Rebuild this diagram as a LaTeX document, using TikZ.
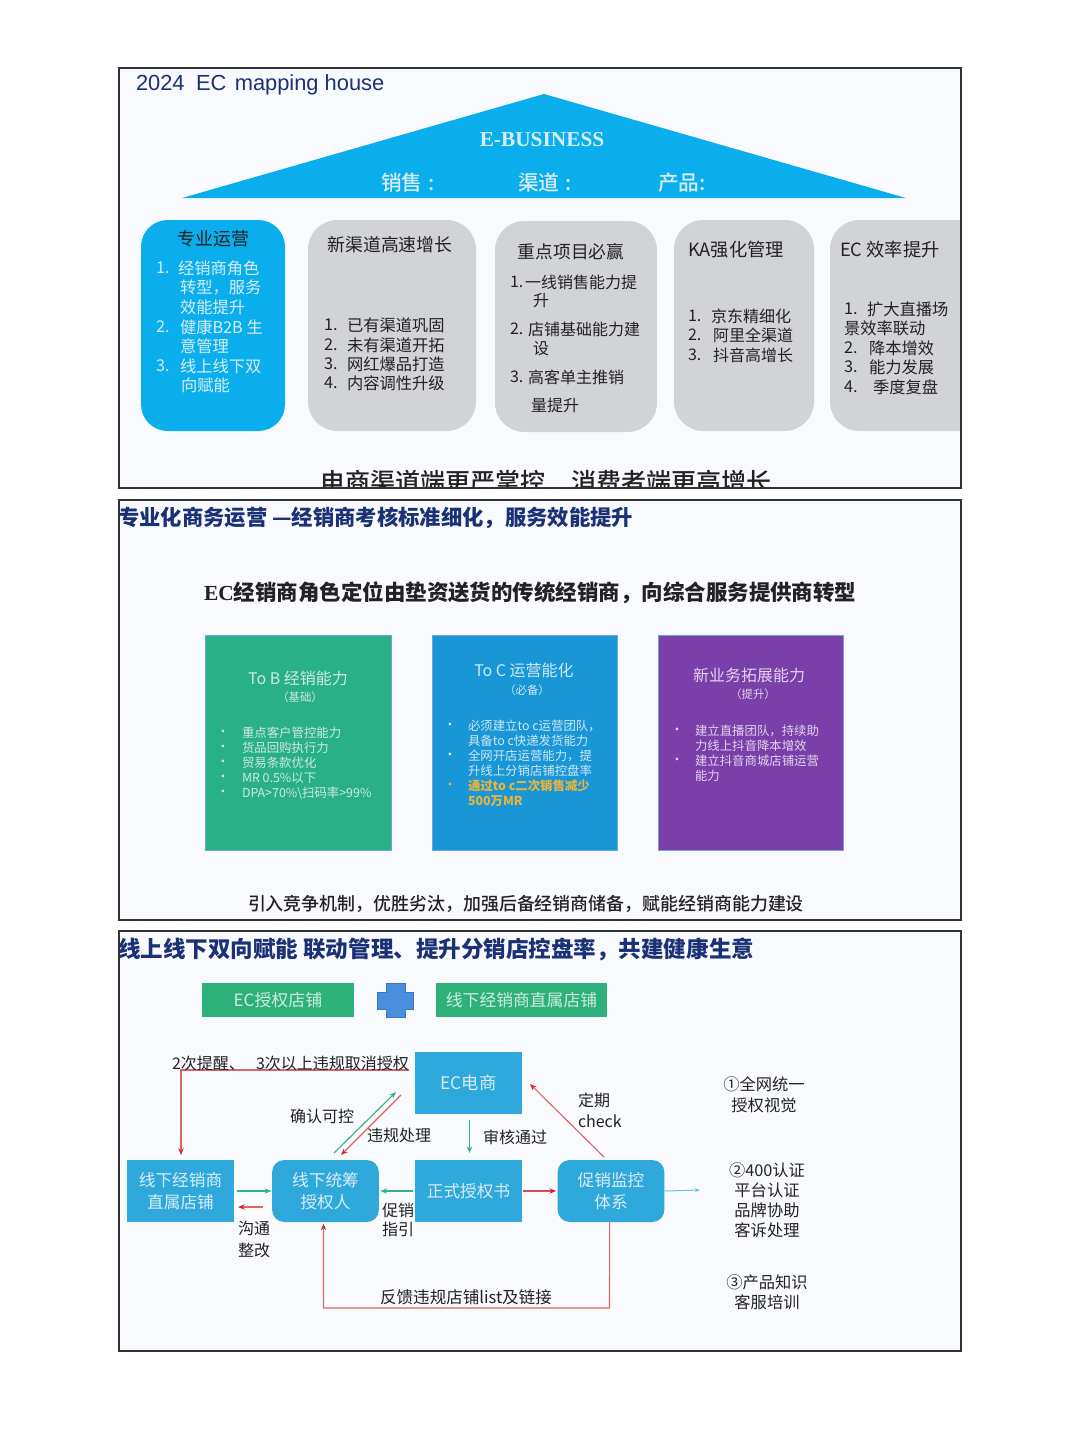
\documentclass[tikz,border=0pt]{standalone}
\usepackage{fontspec}
\usetikzlibrary{arrows.meta}
\setmainfont{Noto Sans CJK SC}
\newfontfamily\latf{Liberation Sans}
\newfontfamily\serf{Liberation Serif}
\newfontfamily\medf{Noto Sans CJK SC Medium}
\definecolor{panelbg}{HTML}{F8FAFE}
\definecolor{framec}{HTML}{2F3338}
\definecolor{roofc}{HTML}{0AAEEC}
\definecolor{cardgray}{HTML}{D2D3D6}
\definecolor{navy}{HTML}{1A3275}
\definecolor{inkc}{HTML}{222222}
\definecolor{greenbox}{HTML}{2AB086}
\definecolor{bluebox}{HTML}{1896D6}
\definecolor{purplebox}{HTML}{7A3FA9}
\definecolor{edgeb}{HTML}{6FA3D8}
\definecolor{goldc}{HTML}{E8B43E}
\definecolor{tagc}{HTML}{2DB07A}
\definecolor{flowc}{HTML}{2FA8DC}
\definecolor{crossc}{HTML}{4A8FDD}
\definecolor{crossd}{HTML}{3A78BE}
\definecolor{redl}{HTML}{DB6468}
\definecolor{redt}{HTML}{CC2A2E}
\definecolor{greenl}{HTML}{2FB57E}
\definecolor{softw}{HTML}{D8EEF7}
\definecolor{softg}{HTML}{CDEBDF}
\definecolor{softb}{HTML}{CFE8F6}
\definecolor{softp}{HTML}{E3D3EE}
\newcommand{\lb}[6][]{\node[txt,#1] (#2) at (#3,#4) {\fontsize{#5}{#5}\selectfont #6};}
\tikzset{
 x=0.75pt,y=-0.75pt,
 txt/.style={inner sep=0pt,outer sep=0pt,text=inkc},
 lft/.style={anchor=west},
 panel/.style={draw=framec,line width=1.2pt},
 gcard/.style={fill=cardgray,draw=none,rounded corners=22pt},
 bcard/.style={fill=roofc,draw=none,rounded corners=20pt},
 capbox/.style={draw=edgeb,line width=0.6pt},
 tag/.style={fill=tagc,draw=none,text=softg,inner sep=0pt,minimum height=25.5pt},
 flow/.style={fill=flowc,draw=none,text=softw,inner sep=0pt,align=center,minimum width=80pt,minimum height=46.5pt,font=\fontsize{12.5}{16}\selectfont},
 flowr/.style={flow,rounded corners=9pt},
 rarr/.style={draw=redl,line width=0.85pt,-{Stealth[length=5pt,width=4pt,color=redt]}},
 garr/.style={draw=greenl,line width=0.85pt,-{Stealth[length=5pt,width=4pt]}},
 rbold/.style={rarr,draw=redl!60!redt,line width=1.1pt},
 gbold/.style={garr,line width=1.1pt}
}
\begin{document}
\begin{tikzpicture}
\useasboundingbox (0,0) rectangle (1080,1440);
\fill[white] (0,0) rectangle (1080,1440);
% panel fills
\fill[panelbg] (119,68) rectangle (961,488);
\fill[panelbg] (119,500) rectangle (961,920);
\fill[panelbg] (119,931) rectangle (961,1351);

% ---------- panel 1
\begin{scope}
\clip (119,68) rectangle (961,488);
\fill[roofc] (544,94) -- (906,198) -- (182,198) -- cycle;
\fill[bcard] (141,220) rectangle (285,431);
\fill[gcard] (308,220) rectangle (476,431);
\fill[gcard] (495,221) rectangle (657,432);
\fill[gcard] (674,220) rectangle (814,431);
\fill[gcard] (830,220) rectangle (1000,431);
\lb{tb}{546}{482}{18.8}{\medf 电商渠道端更严掌控\hspace{1em}消费者端更高增长}
\end{scope}
\lb[lft,text=navy]{t1}{136}{85}{16.4}{\latf 2024\hspace{0.25em} EC\hspace{0.1em} mapping house}
\lb[text=softw]{eb}{542}{140}{16}{\serf\bfseries E-BUSINESS}
\lb[lft,text=softw]{r1}{381}{183}{15.5}{\medf 销售\hspace{0.3em}:}
\lb[lft,text=softw]{r2}{518}{183}{15.5}{\medf 渠道\hspace{0.3em}:}
\lb[lft,text=softw]{r3}{658}{183}{15.5}{\medf 产品:}
% card 1
\lb{c1t}{213}{239}{13.5}{专业运营}
\lb[lft,text=softw]{c1a}{156}{268}{12.2}{1.}
\lb[lft,text=softw]{c1b}{178}{268}{12.2}{经销商角色}
\lb[lft,text=softw]{c1c}{180}{288}{12.2}{转型，服务}
\lb[lft,text=softw]{c1d}{180}{307}{12.2}{效能提升}
\lb[lft,text=softw]{c1e}{156}{327}{12.2}{2.}
\lb[lft,text=softw]{c1f}{180}{327}{12.2}{健康B2B 生}
\lb[lft,text=softw]{c1g}{180}{346}{12.2}{意管理}
\lb[lft,text=softw]{c1h}{156}{366}{12.2}{3.}
\lb[lft,text=softw]{c1i}{180}{366}{12.2}{线上线下双}
\lb[lft,text=softw]{c1j}{181}{385}{12.2}{向赋能}
% card 2
\lb{c2t}{390}{245}{13.4}{新渠道高速增长}
\lb[lft]{c2a}{324}{325}{12.2}{1.}
\lb[lft]{c2b}{347}{325}{12.2}{已有渠道巩固}
\lb[lft]{c2c}{324}{345}{12.2}{2.}
\lb[lft]{c2d}{347}{345}{12.2}{未有渠道开拓}
\lb[lft]{c2e}{324}{364}{12.2}{3.}
\lb[lft]{c2f}{347}{364}{12.2}{网红爆品打造}
\lb[lft]{c2g}{324}{383}{12.2}{4.}
\lb[lft]{c2h}{347}{383}{12.2}{内容调性升级}
% card 3
\lb{c3t}{571}{252}{13.3}{重点项目必赢}
\lb[lft]{c3a}{510}{282}{12}{1.}
\lb[lft]{c3b}{525}{282}{12}{一线销售能力提}
\lb[lft]{c3c}{533}{301}{12}{升}
\lb[lft]{c3d}{510}{329}{12}{2.}
\lb[lft]{c3e}{528}{329}{12}{店铺基础能力建}
\lb[lft]{c3f}{533}{349}{12}{设}
\lb[lft]{c3g}{510}{377}{12}{3.}
\lb[lft]{c3h}{528}{377}{12}{高客单主推销}
\lb[lft]{c3i}{531}{405}{12}{量提升}
% card 4
\lb{c4t}{736}{250}{13.7}{KA强化管理}
\lb[lft]{c4a}{688}{316}{12}{1.}
\lb[lft]{c4b}{711}{316}{12}{京东精细化}
\lb[lft]{c4c}{688}{335}{12}{2.}
\lb[lft]{c4d}{713}{335}{12}{阿里全渠道}
\lb[lft]{c4e}{688}{355}{12}{3.}
\lb[lft]{c4f}{713}{355}{12}{抖音高增长}
% card 5
\lb[lft]{c5t}{840}{250}{13.7}{EC 效率提升}
\lb[lft]{c5a}{844}{309}{12.2}{1.}
\lb[lft]{c5b}{867}{309}{12.2}{扩大直播场}
\lb[lft]{c5c}{844}{328}{12.2}{景效率联动}
\lb[lft]{c5d}{844}{348}{12.2}{2.}
\lb[lft]{c5e}{869}{348}{12.2}{降本增效}
\lb[lft]{c5f}{844}{367}{12.2}{3.}
\lb[lft]{c5g}{869}{367}{12.2}{能力发展}
\lb[lft]{c5h}{844}{387}{12.2}{4.}
\lb[lft]{c5i}{873}{387}{12.2}{季度复盘}

% ---------- panel 2
\lb[lft,text=navy]{p2t}{118}{518}{16}{\bfseries 专业化商务运营 —经销商考核标准细化，服务效能提升}
\lb[lft]{p2s}{204}{593}{16.1}{\bfseries{\serf EC}经销商角色定位由垫资送货的传统经销商，向综合服务提供商转型}
\fill[greenbox] (205,635) rectangle (391,850);
\draw[capbox] (205,635) rectangle (391,850);
\fill[bluebox] (432,635) rectangle (617,850);
\draw[capbox] (432,635) rectangle (617,850);
\fill[purplebox] (658,635) rectangle (843,850);
\draw[capbox] (658,635) rectangle (843,850);
% green box
\lb[text=softg]{g0}{298}{678}{12}{To B 经销能力}
\lb[text=softg]{g1}{300}{697}{8.5}{（基础）}
\foreach \n/\yy/\tt in {a/733/重点客户管控能力,b/748/货品回购执行力,c/763/贸易条款优化,d/778/MR 0.5\%以下,e/793/DPA>70\%\textbackslash 扫码率>99\%}{
 \lb[text=softg]{gb\n}{223}{\yy}{10}{•}
 \lb[lft,text=softg]{gt\n}{242}{\yy}{9.3}{\tt}
}
% blue box
\lb[text=softb]{b0}{524}{670}{12}{To C 运营能化}
\lb[text=softb]{b1}{527}{690}{8.5}{（必备）}
\lb[text=softb]{bba}{450}{726}{10}{•}
\lb[lft,text=softb]{bta}{468}{726}{9.3}{必须建立to c运营团队，}
\lb[lft,text=softb]{btb}{468}{741}{9.3}{具备to c快递发货能力}
\lb[text=softb]{bbc}{450}{756}{10}{•}
\lb[lft,text=softb]{btc}{468}{756}{9.3}{全网开店运营能力，提}
\lb[lft,text=softb]{btd}{468}{771}{9.3}{升线上分销店铺控盘率}
\lb[text=goldc]{bbe}{450}{786}{10}{•}
\lb[lft,text=goldc]{bte}{468}{786}{9.3}{\textbf{通过to c二次销售减少}}
\lb[lft,text=goldc]{btf}{468}{801}{9.3}{\textbf{500万MR}}
% purple box
\lb[text=softp]{v0}{749}{675}{12}{新业务拓展能力}
\lb[text=softp]{v1}{753}{694}{8.5}{（提升）}
\lb[text=softp]{vba}{677}{731}{10}{•}
\lb[lft,text=softp]{vta}{695}{731}{9.3}{建立直播团队，持续助}
\lb[lft,text=softp]{vtb}{695}{746}{9.3}{力线上抖音降本增效}
\lb[text=softp]{vbc}{677}{761}{10}{•}
\lb[lft,text=softp]{vtc}{695}{761}{9.3}{建立抖音商城店铺运营}
\lb[lft,text=softp]{vtd}{695}{776}{9.3}{能力}
\lb[lft]{p2b}{248}{904}{13.45}{\medf 引入竞争机制，优胜劣汰，加强后备经销商储备，赋能经销商能力建设}

% ---------- panel 3
\lb[lft,text=navy]{p3t}{118}{949}{16.9}{\bfseries 线上线下双向赋能 联动管理、提升分销店控盘率，共建健康生意}
\node[tag,minimum width=114pt] (ta) at (278,1000) {\fontsize{12.7}{12.7}\selectfont EC授权店铺};
\node[tag,minimum width=128pt] (tb2) at (521.5,1000) {\fontsize{12.6}{12.6}\selectfont 线下经销商直属店铺};
\filldraw[fill=crossc,draw=crossd,line width=0.5pt] (386,983.5) -- (405,983.5) -- (405,992) -- (413,992) -- (413,1009) -- (405,1009) -- (405,1017) -- (386,1017) -- (386,1009) -- (377.5,1009) -- (377.5,992) -- (386,992) -- cycle;
% flow boxes
\node[flow,font=\fontsize{13}{16}\selectfont,text depth=-1pt] (ec) at (468.5,1082.5) {EC电商};
\node[flow] (dl) at (180.5,1191) {线下经销商\\直属店铺};
\node[flowr] (au) at (325.5,1191) {线下统筹\\授权人};
\node[flow] (zs) at (468.5,1191) {正式授权书};
\node[flowr] (cx) at (611,1191) {促销监控\\体系};
% free ends
\coordinate (gs) at (334,1153);
\coordinate (ge) at (396,1092);
\coordinate (rs) at (401,1095);
\coordinate (re) at (341,1155);
\coordinate (cs) at (604,1157);
\coordinate (ce) at (530,1084);
\coordinate (oe) at (700,1190);
\coordinate (tl) at (409,1070);
\coordinate (td) at (181,1155);
\coordinate (bs) at (263,1207);
\coordinate (be) at (238,1207);
\coordinate (bc) at (609.5,1308);
\coordinate (bd) at (323.5,1308);
% connectors
\draw[rarr] (tl) -| (td);
\draw[garr] (gs) -- (ge);
\draw[rarr] (rs) -- (re);
\draw[garr,shorten <=4.5pt,shorten >=5pt] ([xshift=0.75pt]ec.south) -- ([xshift=0.75pt]zs.north);
\draw[rarr] (cs) -- (ce);
\draw[gbold,shorten <=2pt,shorten >=0.5pt] (dl.east) -- (au.west);
\draw[rarr] (bs) -- (be);
\draw[gbold,shorten <=1.5pt,shorten >=1pt] (zs.west) -- (au.east);
\draw[rbold,shorten <=1pt,shorten >=1pt] (zs.east) -- (cx.west);
\draw[draw=flowc!70,line width=0.75pt,-{Stealth[length=4pt,width=3pt]}] (cx.east) -- (oe);
\draw[rarr] ([xshift=-1pt]cx.south) -- (bc) -- (bd) -- ([xshift=-1.5pt,yshift=-1pt]au.south);
% flow labels
\lb[lft]{l1}{172}{1063}{12}{2次提醒、}
\lb[lft]{l2}{256}{1063}{12}{3次以上违规取消授权}
\lb{l3}{322}{1116}{12}{确认可控}
\lb{l4}{399}{1135}{12}{违规处理}
\lb{l5}{515}{1137}{12}{审核通过}
\lb[lft]{l6}{578}{1100}{12}{定期}
\lb[lft]{l7}{578}{1121}{12}{check}
\lb[lft]{l8}{382}{1210}{12}{促销}
\lb[lft]{l9}{382}{1229}{12}{指引}
\lb{l10}{254}{1228}{12}{沟通}
\lb{l11}{254}{1250}{12}{整改}
\lb{l12}{466}{1297}{12.4}{反馈违规店铺list及链接}
\lb{s1}{764}{1084}{12.2}{①全网统一}
\lb{s2}{764}{1105}{12.2}{授权视觉}
\lb{s3}{767}{1170}{12.2}{②400认证}
\lb{s4}{767}{1190}{12.2}{平台认证}
\lb{s5}{767}{1210}{12.2}{品牌协助}
\lb{s6}{767}{1230}{12.2}{客诉处理}
\lb{s7}{767}{1282}{12.2}{③产品知识}
\lb{s8}{767}{1302}{12.2}{客服培训}

% frames
\draw[panel] (119,68) rectangle (961,488);
\draw[panel] (119,500) rectangle (961,920);
\draw[panel] (119,931) rectangle (961,1351);
\end{tikzpicture}
\end{document}
